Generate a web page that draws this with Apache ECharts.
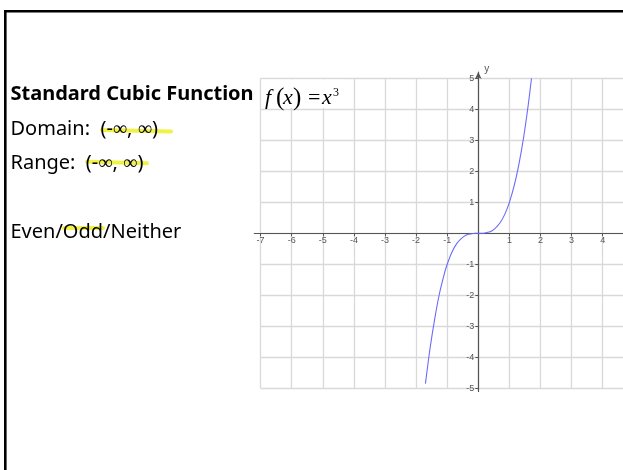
<!DOCTYPE html>
<html>
<head>
<meta charset="utf-8">
<script src="https://cdn.jsdelivr.net/npm/echarts@6/dist/echarts.min.js"></script>
<style>
  html, body { margin: 0; padding: 0; background: #fff; }
  #main { width: 623px; height: 470px; }
</style>
</head>
<body>
<div id="main"></div>
<script>
// points of the plotted curve
const curveX = [-1.70, -1.55, -1.40, -1.25, -1.10, -1.00, -0.85, -0.70, -0.55, -0.40, -0.25, -0.10, 0,
  0.10, 0.25, 0.40, 0.55, 0.70, 0.85, 1.00, 1.15, 1.30, 1.45, 1.60, 1.71];
const curveY = [-4.85, -3.70, -2.75, -1.95, -1.33, -1.00, -0.61, -0.34, -0.17, -0.06, -0.02, 0, 0,
  0, 0.02, 0.06, 0.17, 0.34, 0.61, 1.00, 1.52, 2.20, 3.05, 4.10, 5.00];
const xTickLabels = ['-7', '-6', '-5', '-4', '-3', '-2', '-1', '1', '2', '3', '4'];
const yTickLabels = ['-5', '-4', '-3', '-2', '-1', '1', '2', '3', '4', '5'];

const textLines = ['Domain:  (-∞, ∞)', 'Range:  (-∞, ∞)', 'Even/Odd/Neither'];

let chart = echarts.init(document.getElementById('main'));

// px per unit
const ux = 31.1, uy = 31;
const x0 = 478.3, y0 = 233.3;
const xMin = -7, xMax = 4.7, yMin = -5, yMax = 5;

function tickFmt(list) {
  return function (v) {
    let s = String(Math.round(v * 100) / 100);
    return list.indexOf(s) >= 0 ? s : '';
  };
}

// graphic text is top aligned, so move it up from the baseline
function txt(str, x, base, size, font, z) {
  return {
    type: 'text', z: z || 70, x: x, y: base - size * 0.73,
    style: { text: str, font: font.replace('%', size + 'px'), fill: '#000' }
  };
}

const labelStyle = { color: '#555', fontSize: 9, fontFamily: 'Liberation Sans' };
const yellow = 'rgba(238,240,40,0.85)';
const body = '% "Noto Sans"';
const serif = '% "Liberation Serif"';
const serifI = 'italic % "Liberation Serif"';

let option = {
  animation: false,
  grid: [
    { left: x0 + xMin * ux, top: y0 - yMax * uy, width: (xMax - xMin) * ux, height: (yMax - yMin) * uy,
      outerBoundsMode: 'none' },
    { left: x0 - 7.2 * ux, top: y0 - 5.2 * uy, width: (xMax + 7.2) * ux, height: 10.3 * uy,
      outerBoundsMode: 'none' }
  ],
  xAxis: [
    {
      // ticks and labels, moved up onto y = 0
      gridIndex: 0, type: 'value', min: xMin, max: xMax, interval: 1,
      position: 'bottom', offset: yMin * uy,
      axisLine: { show: false, onZero: false },
      axisTick: { show: true, length: 3, lineStyle: { color: '#555' } },
      axisLabel: Object.assign({ margin: 3, formatter: tickFmt(xTickLabels) }, labelStyle),
      splitLine: { show: true, lineStyle: { color: '#d9d9d9', width: 1.3 } }
    },
    {
      gridIndex: 1, type: 'value', min: -7.2, max: xMax,
      axisLine: { show: true, onZero: true, lineStyle: { color: '#555', width: 1.2 } },
      axisTick: { show: false }, axisLabel: { show: false }, splitLine: { show: false }
    }
  ],
  yAxis: [
    {
      gridIndex: 0, type: 'value', min: yMin, max: yMax, interval: 1,
      position: 'left', offset: xMin * ux,
      axisLine: { show: false, onZero: false },
      axisTick: { show: true, length: 3, lineStyle: { color: '#555' } },
      axisLabel: Object.assign({ margin: 4, formatter: tickFmt(yTickLabels) }, labelStyle),
      splitLine: { show: true, lineStyle: { color: '#d9d9d9', width: 1.3 } }
    },
    {
      gridIndex: 1, type: 'value', min: -5.1, max: 5.2,
      name: 'y', nameLocation: 'end', nameGap: -2,
      nameTextStyle: { color: '#555', fontSize: 10, fontFamily: 'Liberation Sans', align: 'left', padding: [0, 0, 0, 6] },
      axisLine: {
        show: true, onZero: true, lineStyle: { color: '#555', width: 1.2 },
        symbol: ['none', 'arrow'], symbolSize: [5, 7], symbolOffset: [0, 0]
      },
      axisTick: { show: false }, axisLabel: { show: false }, splitLine: { show: false }
    }
  ],
  series: [
    {
      type: 'line',
      xAxisIndex: 0, yAxisIndex: 0,
      data: curveX.map((x, i) => [x, curveY[i]]),
      smooth: 0.3,
      showSymbol: false,
      lineStyle: { color: '#6a6aff', width: 1.1 },
      z: 5
    }
  ],
  graphic: [
    // frame
    { type: 'rect', z: 50, shape: { x: 5.3, y: 11.3, width: 700, height: 600 },
      style: { fill: 'none', stroke: '#000', lineWidth: 2.6 } },
    // yellow marks
    { type: 'line', z: 60, shape: { x1: 102, y1: 130, x2: 171, y2: 131.5 },
      style: { stroke: yellow, lineWidth: 4, lineCap: 'round' } },
    { type: 'line', z: 60, shape: { x1: 87, y1: 161.7, x2: 147, y2: 163.3 },
      style: { stroke: yellow, lineWidth: 4, lineCap: 'round' } },
    { type: 'line', z: 60, shape: { x1: 64, y1: 228, x2: 103, y2: 228 },
      style: { stroke: yellow, lineWidth: 4, lineCap: 'round' } },
    // text
    txt('Standard Cubic Function', 10.5, 99, 20, 'bold ' + body),
    txt(textLines[0], 10.5, 134, 20, body),
    txt(textLines[1], 10.5, 168, 20, body),
    txt(textLines[2], 10.5, 237, 20, body),
    // formula box
    { type: 'rect', z: 80, shape: { x: 262, y: 79.5, width: 82, height: 28.5 },
      style: { fill: '#fff' } },
    txt('f', 265, 103.5, 22, serifI, 90),
    txt('(', 276, 104.5, 25, serif, 90),
    txt('x', 283, 103.5, 22, serifI, 90),
    txt(')', 293, 104.5, 25, serif, 90),
    txt('=', 308, 103.5, 22, serif, 90),
    txt('x', 322, 103.5, 22, serifI, 90),
    txt('3', 333, 96, 12, serif, 90)
  ]
};

chart.setOption(option);
</script>
</body>
</html>
